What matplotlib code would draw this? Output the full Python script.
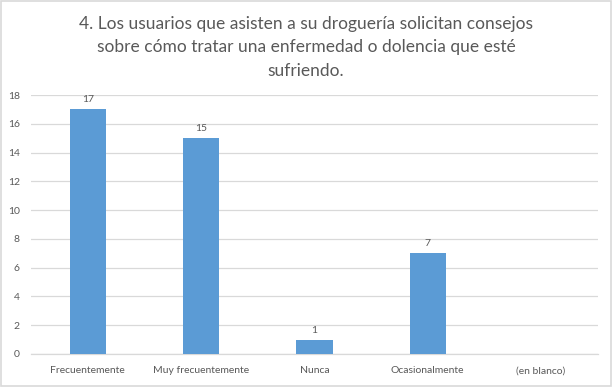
import numpy as np
import matplotlib.pyplot as plt
from matplotlib.patches import Rectangle

categories = ["Frecuentemente", "Muy frecuentemente", "Nunca", "Ocasionalmente", "(en blanco)"]
values = [17, 15, 1, 7, None]
title = ("4. Los usuarios que asisten a su droguería solicitan consejos\n"
         "sobre cómo tratar una enfermedad o dolencia que esté\n"
         "sufriendo.")

bar_color = "#5B9BD5"
text_color = "#595959"
grid_color = "#D9D9D9"

plt.rcParams['font.family'] = ['Lato', 'DejaVu Sans']

fig = plt.figure(figsize=(6.12, 3.87), dpi=100)
ax = fig.add_axes([0.0507, 0.0853, 0.926, 0.669])

x = np.arange(len(categories))
heights = [v if v is not None else 0 for v in values]
bars = ax.bar(x, heights, width=0.32, color=bar_color, zorder=3)

for xi, v in zip(x, values):
    if v is not None:
        ax.text(xi, v + 0.35, str(v), ha='center', va='bottom',
                fontsize=7.5, color=text_color)

ax.set_xlim(-0.5, len(categories) - 0.5)
ax.set_ylim(0, 18)
ax.set_yticks(range(0, 19, 2))
ax.set_xticks(x)
ax.set_xticklabels(categories)
ax.tick_params(axis='both', length=0, labelsize=7.5, colors=text_color)
ax.tick_params(axis='x', pad=9)
ax.tick_params(axis='y', pad=8)
ax.grid(axis='y', color=grid_color, linewidth=0.9, zorder=0)
for side in ['top', 'right', 'left']:
    ax.spines[side].set_visible(False)
ax.spines['bottom'].set_color(grid_color)
ax.spines['bottom'].set_linewidth(0.9)

fig.text(0.5, 0.958, title, ha='center', va='top', fontsize=12.5,
         color=text_color, linespacing=1.55)

fig.patches.append(Rectangle((0.002, 0.003), 0.996, 0.994, transform=fig.transFigure,
                             fill=False, edgecolor=grid_color, linewidth=1.2))

fig.savefig("out.png", dpi=100)
